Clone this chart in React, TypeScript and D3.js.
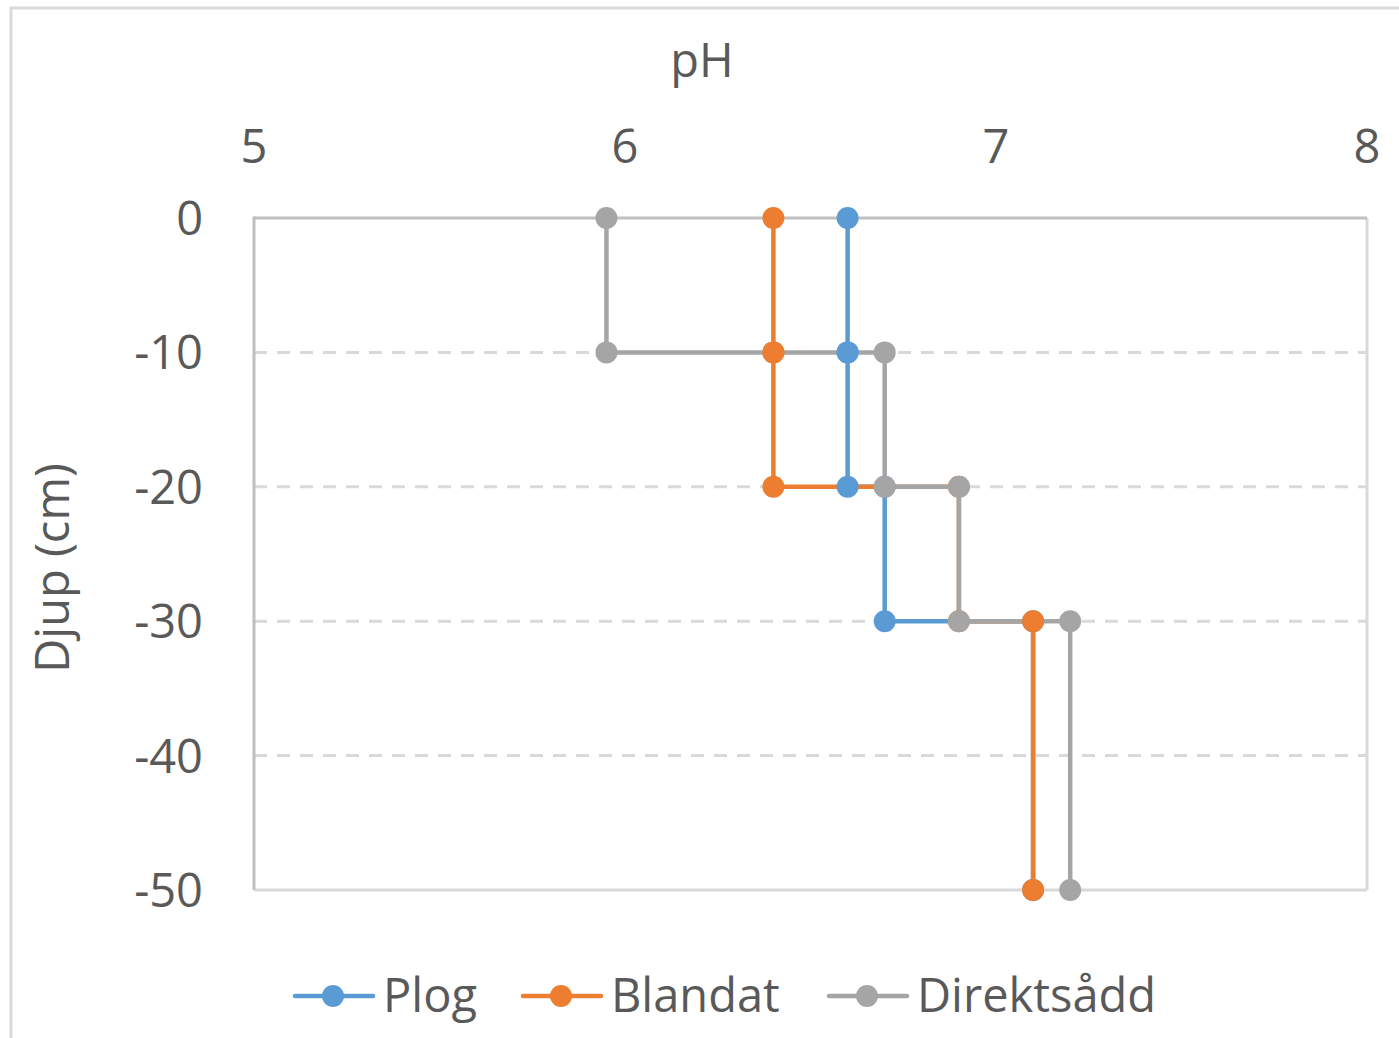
import React from "react";
import * as d3 from "d3";

const depths = [0, -10, -10, -20, -20, -30, -30, -50];
const seriesNames = ["Plog", "Blandat", "Direktsådd"];
const plogPH = [6.6, 6.6, 6.6, 6.6, 6.7, 6.7, 7.1, 7.1];
const blandatPH = [6.4, 6.4, 6.4, 6.4, 6.9, 6.9, 7.1, 7.1];
const direktPH = [5.95, 5.95, 6.7, 6.7, 6.9, 6.9, 7.2, 7.2];
const seriesColors = ["#5B9BD5", "#ED7D31", "#A5A5A5"];
const xTicks = [5, 6, 7, 8];
const yTicks = [0, -10, -20, -30, -40, -50];
const xTitle = "pH";
const yTitle = "Djup (cm)";

const W = 1399;
const H = 1038;
const FONT = "'Open Sans', sans-serif";
const TEXT = "#595959";

export default function App() {
  const x = d3.scaleLinear().domain([5, 8]).range([254, 1367]);
  const y = d3.scaleLinear().domain([-50, 0]).range([890, 218]);
  const allSeries = [plogPH, blandatPH, direktPH].map((vals) =>
    vals.map((v, i) => [v, depths[i]] as [number, number])
  );
  const line = d3
    .line<[number, number]>()
    .x((d) => x(d[0]))
    .y((d) => y(d[1]));

  const legendX = [295, 523, 829];

  return (
    <svg
      width={W}
      height={H}
      style={{ position: "absolute", left: 0, top: 0, background: "#fff" }}
      fontFamily={FONT}
    >
      <rect x={0} y={0} width={W} height={H} fill="#fff" />
      <rect x={11} y={8} width={W + 20} height={H + 20} fill="none" stroke="#D9D9D9" strokeWidth={3} />

      {/* gridlines */}
      {yTicks
        .filter((t) => t !== 0 && t !== -50)
        .map((t) => (
          <line
            key={t}
            x1={x(5)}
            x2={x(8)}
            y1={y(t)}
            y2={y(t)}
            stroke="#D9D9D9"
            strokeWidth={3}
            strokeDasharray="13 10"
          />
        ))}
      {/* plot border */}
      <line x1={x(5)} x2={x(8)} y1={y(-50)} y2={y(-50)} stroke="#D9D9D9" strokeWidth={3} />
      <line x1={x(8)} x2={x(8)} y1={y(0)} y2={y(-50)} stroke="#D9D9D9" strokeWidth={3} />
      <line x1={x(5)} x2={x(8)} y1={y(0)} y2={y(0)} stroke="#BFBFBF" strokeWidth={3} />
      <line x1={x(5)} x2={x(5)} y1={y(0) - 1.5} y2={y(-50)} stroke="#BFBFBF" strokeWidth={3} />

      {/* tick labels */}
      {xTicks.map((t) => (
        <text key={t} x={x(t)} y={163} textAnchor="middle" fontSize={47} fill={TEXT}>
          {t}
        </text>
      ))}
      {yTicks.map((t) => (
        <text key={t} x={203} y={y(t) + 17} textAnchor="end" fontSize={47} fill={TEXT}>
          {t}
        </text>
      ))}
      <text x={702} y={77} textAnchor="middle" fontSize={47} fill={TEXT}>
        {xTitle}
      </text>
      <text
        transform={`translate(69,568) rotate(-90)`}
        textAnchor="middle"
        fontSize={47}
        fill={TEXT}
      >
        {yTitle}
      </text>

      {/* series lines */}
      {allSeries.map((s, i) => (
        <path
          key={i}
          d={line(s) || ""}
          fill="none"
          stroke={seriesColors[i]}
          strokeWidth={4.5}
          strokeLinejoin="round"
        />
      ))}
      {/* markers */}
      {allSeries.map((s, i) => (
        <g key={i}>
          {s.map((d, j) => (
            <circle key={j} cx={x(d[0])} cy={y(d[1])} r={11} fill={seriesColors[i]} />
          ))}
        </g>
      ))}

      {/* legend */}
      {seriesNames.map((n, i) => (
        <g key={n} transform={`translate(${legendX[i]},996)`}>
          <line x1={0} x2={78} y1={0} y2={0} stroke={seriesColors[i]} strokeWidth={4.5} strokeLinecap="round" />
          <circle cx={38} cy={0} r={11} fill={seriesColors[i]} />
          <text x={88} y={16} fontSize={47} fill={TEXT}>
            {n}
          </text>
        </g>
      ))}
    </svg>
  );
}
